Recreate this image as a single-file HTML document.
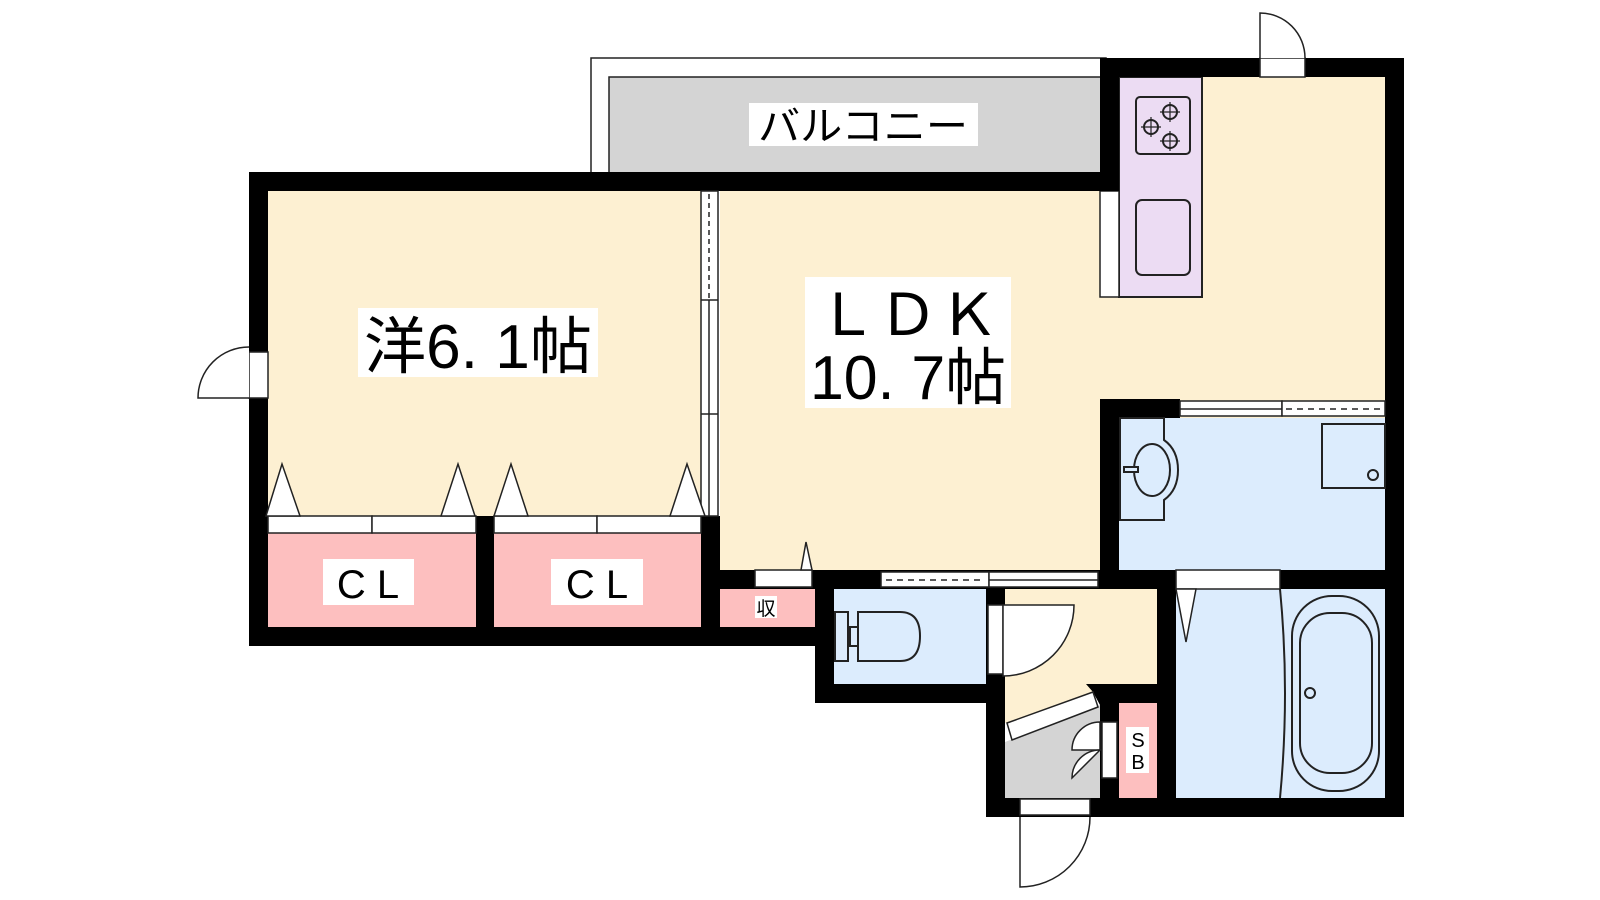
<!DOCTYPE html>
<html><head><meta charset="utf-8"><style>
html,body{margin:0;padding:0;background:#fff;}
svg{display:block;}
text{font-family:"Liberation Sans","Noto Sans CJK JP",sans-serif;fill:#000;}
</style></head><body>
<svg width="1600" height="900" viewBox="0 0 1600 900" xmlns="http://www.w3.org/2000/svg">
<g stroke="#222" stroke-width="1.5">
<rect x="591" y="58" width="515" height="116" fill="#fff"/>
<rect x="609" y="77" width="497" height="97" fill="#d4d4d4"/>
</g>
<rect x="720" y="191" width="665" height="379" fill="#fdf0d2"/>
<rect x="1100" y="77" width="285" height="322" fill="#fdf0d2"/>
<rect x="268" y="191" width="433" height="325" fill="#fdf0d2"/>
<rect x="268" y="533" width="208" height="94" fill="#fdbfbf"/>
<rect x="494" y="533" width="207" height="94" fill="#fdbfbf"/>
<rect x="720" y="589" width="95" height="38" fill="#fdbfbf"/>
<rect x="1119" y="418" width="266" height="152" fill="#dcecfd"/>
<rect x="1176" y="589" width="209" height="209" fill="#dcecfd"/>
<rect x="834" y="589" width="152" height="95" fill="#dcecfd"/>
<rect x="1119" y="703" width="38" height="95" fill="#fdbfbf"/>
<polygon points="1005,589 1157,589 1157,684 1100,684 1093,692 1007,723 1005,723" fill="#fdf0d2"/>
<polygon points="1005,742 1100,705 1100,798 1005,798" fill="#d4d4d4"/>
<rect x="1119" y="77" width="83" height="220" fill="#ecdcf3" stroke="#222" stroke-width="2"/>
<rect x="1100" y="191" width="19" height="106" fill="#fff" stroke="#222" stroke-width="1.5"/>
<rect x="1136" y="97" width="54" height="57" rx="4" fill="none" stroke="#222" stroke-width="2"/>
<g fill="none" stroke="#222" stroke-width="2">
<circle cx="1151" cy="127" r="7"/><circle cx="1170" cy="112" r="7"/><circle cx="1170" cy="141" r="7"/>
<path d="M1141,127h20M1151,117v20M1160,112h20M1170,102v20M1160,141h20M1170,131v20" stroke-width="1.2"/>
<rect x="1136" y="200" width="54" height="75" rx="6"/>
</g>
<g fill="#000">
<rect x="249" y="172" width="870" height="19"/>
<rect x="1100" y="58" width="19" height="133"/>
<rect x="1100" y="58" width="304" height="19"/>
<rect x="1385" y="58" width="19" height="759"/>
<rect x="249" y="172" width="19" height="474"/>
<rect x="249" y="627" width="585" height="19"/>
<rect x="476" y="516" width="18" height="111"/>
<rect x="701" y="516" width="19" height="111"/>
<rect x="701" y="570" width="418" height="19"/>
<rect x="815" y="570" width="19" height="133"/>
<rect x="815" y="684" width="190" height="19"/>
<rect x="986" y="589" width="19" height="228"/>
<rect x="1100" y="399" width="80" height="19"/>
<rect x="1100" y="399" width="19" height="190"/>
<rect x="1100" y="570" width="304" height="19"/>
<rect x="1157" y="570" width="19" height="247"/>
<rect x="1100" y="684" width="57" height="19"/>
<rect x="1100" y="684" width="19" height="133"/>
<rect x="986" y="798" width="418" height="19"/>
<polygon points="1086,684 1100,684 1100,705 1093,692"/>
</g>
<g fill="#fff" stroke="#222" stroke-width="1.5">
<rect x="1260" y="58" width="45" height="19"/>
<rect x="249" y="352" width="19" height="46"/>
<rect x="755" y="570" width="57" height="17"/>
<rect x="881" y="572" width="108" height="15"/>
<rect x="989" y="572" width="109" height="15"/>
<rect x="1180" y="401" width="102" height="15"/>
<rect x="1282" y="401" width="103" height="15"/>
<rect x="1176" y="570" width="104" height="19"/>
<rect x="988" y="605" width="15" height="69"/>
<rect x="1020" y="799" width="70" height="16"/>
<rect x="1102" y="722" width="15" height="56"/>
<rect x="701" y="191" width="17" height="325"/>
<rect x="268" y="516" width="104" height="17"/><rect x="372" y="516" width="104" height="17"/>
<rect x="494" y="516" width="103" height="17"/><rect x="597" y="516" width="104" height="17"/>
<polygon points="1007,723 1093,692 1098,707 1012,740"/>
</g>
<g stroke="#222" stroke-width="1.5" fill="none">
<line x1="989" y1="580" x2="1098" y2="580"/>
<line x1="1180" y1="409" x2="1282" y2="409"/>
<line x1="886" y1="580" x2="985" y2="580" stroke-dasharray="6,5"/>
<line x1="1286" y1="409" x2="1383" y2="409" stroke-dasharray="6,5"/>
<line x1="709" y1="194" x2="709" y2="300" stroke-dasharray="5,4"/>
<line x1="701" y1="300" x2="718" y2="300"/>
<line x1="701" y1="414" x2="718" y2="414"/>
<line x1="709" y1="300" x2="709" y2="516"/>
</g>
<g fill="#fff" stroke="#222" stroke-width="1.5">
<path d="M1260,58 L1260,13 A45,45 0 0 1 1305,58"/>
<path d="M249,398 L198,398 A51,51 0 0 1 249,347"/>
<path d="M1003,605 L1074,605 A71,71 0 0 1 1003,676 Z"/>
<path d="M1020,817 L1020,887 A70,70 0 0 0 1090,817"/>
<path d="M1100,750 L1072,750 A28,28 0 0 1 1100,722 Z"/>
<path d="M1100,750 L1072,778 A28,28 0 0 1 1100,750 Z"/>
<polygon points="266,516 282,464 300,516"/>
<polygon points="441,516 458,464 475,516"/>
<polygon points="494,516 511,464 528,516"/>
<polygon points="670,516 687,464 705,516"/>
<polygon points="801,570 806,542 812,570"/>
<polygon points="1176,589 1186,642 1196,589"/>
</g>
<g fill="none" stroke="#222" stroke-width="2">
<path d="M1120,418 L1164,418 L1164,440 Q1178,450 1178,470 Q1178,490 1164,500 L1164,520 L1120,520 Z"/>
<ellipse cx="1152" cy="470" rx="18" ry="26"/>
<rect x="1124" y="467" width="14" height="5" fill="#dcecfd"/>
<rect x="1322" y="424" width="63" height="64"/>
<circle cx="1373" cy="475" r="5"/>
<rect x="1292" y="596" width="87" height="195" rx="40"/>
<rect x="1300" y="613" width="72" height="160" rx="30"/>
<circle cx="1310" cy="693" r="5"/>
<path d="M1280,589 Q1290,693 1280,798"/>
<rect x="835" y="612" width="13" height="49"/>
<rect x="850" y="627" width="8" height="19"/>
<path d="M858,612 L900,612 Q920,612 920,636 Q920,661 900,661 L858,661 Z"/>
</g>
<rect x="749" y="103" width="229" height="43" fill="#fff"/>
<text x="863" y="140" font-size="40" text-anchor="middle" textLength="210" lengthAdjust="spacingAndGlyphs">バルコニー</text>
<rect x="358" y="308" width="240" height="69" fill="#fff"/>
<text x="478" y="368" font-size="62" text-anchor="middle" textLength="228" lengthAdjust="spacingAndGlyphs">洋6. 1帖</text>
<rect x="805" y="277" width="206" height="131" fill="#fff"/>
<text x="908" y="335" font-size="58" text-anchor="middle" textLength="182" lengthAdjust="spacingAndGlyphs">ＬＤＫ</text>
<text x="908" y="399" font-size="62" text-anchor="middle" textLength="196" lengthAdjust="spacingAndGlyphs">10. 7帖</text>
<rect x="323" y="559" width="91" height="46" fill="#fff"/>
<text x="368" y="598" font-size="40" text-anchor="middle">C L</text>
<rect x="551" y="559" width="92" height="46" fill="#fff"/>
<text x="597" y="598" font-size="40" text-anchor="middle">C L</text>
<rect x="755" y="596" width="22" height="22" fill="#fff"/>
<text x="766" y="615" font-size="19" text-anchor="middle">収</text>
<rect x="1126" y="727" width="23" height="46" fill="#fff"/>
<text x="1138" y="747" font-size="20" text-anchor="middle">S</text>
<text x="1138" y="769" font-size="20" text-anchor="middle">B</text>
</svg>
</body></html>
